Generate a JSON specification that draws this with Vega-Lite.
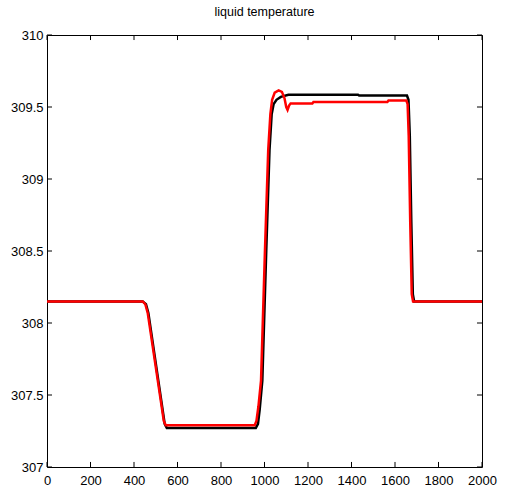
{
  "$schema": "https://vega.github.io/schema/vega-lite/v6.json",
  "autosize": "none",
  "width": 435,
  "height": 432,
  "padding": {"left": 47, "top": 35, "right": 27, "bottom": 28},
  "background": "white",
  "title": {"text": "liquid temperature", "font": "Liberation Sans", "fontSize": 12.5, "fontWeight": "normal", "color": "black", "offset": 11, "anchor": "middle"},
  "config": {
    "view": {"stroke": "black", "strokeWidth": 1},
    "axis": {"grid": false, "domainColor": "black", "tickColor": "black", "labelColor": "black", "labelFont": "Liberation Sans", "labelFontSize": 13, "title": null, "ticks": false, "domain": false, "labelFlush": false, "labelOverlap": false}
  },
  "datasets": {
    "curves": [
      {"t": 0, "temp": 308.15, "s": "A"},
      {"t": 440, "temp": 308.15, "s": "A"},
      {"t": 455, "temp": 308.13, "s": "A"},
      {"t": 466, "temp": 308.07, "s": "A"},
      {"t": 541, "temp": 307.3, "s": "A"},
      {"t": 551, "temp": 307.27, "s": "A"},
      {"t": 960, "temp": 307.27, "s": "A"},
      {"t": 970, "temp": 307.3, "s": "A"},
      {"t": 978, "temp": 307.4, "s": "A"},
      {"t": 990, "temp": 307.6, "s": "A"},
      {"t": 1008, "temp": 308.5, "s": "A"},
      {"t": 1023, "temp": 309.2, "s": "A"},
      {"t": 1033, "temp": 309.45, "s": "A"},
      {"t": 1042, "temp": 309.52, "s": "A"},
      {"t": 1055, "temp": 309.55, "s": "A"},
      {"t": 1075, "temp": 309.57, "s": "A"},
      {"t": 1110, "temp": 309.585, "s": "A"},
      {"t": 1430, "temp": 309.585, "s": "A"},
      {"t": 1435, "temp": 309.58, "s": "A"},
      {"t": 1655, "temp": 309.58, "s": "A"},
      {"t": 1662, "temp": 309.55, "s": "A"},
      {"t": 1668, "temp": 309.3, "s": "A"},
      {"t": 1675, "temp": 308.7, "s": "A"},
      {"t": 1682, "temp": 308.2, "s": "A"},
      {"t": 1688, "temp": 308.15, "s": "A"},
      {"t": 2000, "temp": 308.15, "s": "A"},
      {"t": 0, "temp": 308.15, "s": "B"},
      {"t": 440, "temp": 308.15, "s": "B"},
      {"t": 452, "temp": 308.13, "s": "B"},
      {"t": 463, "temp": 308.07, "s": "B"},
      {"t": 537, "temp": 307.32, "s": "B"},
      {"t": 546, "temp": 307.29, "s": "B"},
      {"t": 955, "temp": 307.29, "s": "B"},
      {"t": 963, "temp": 307.32, "s": "B"},
      {"t": 972, "temp": 307.42, "s": "B"},
      {"t": 984, "temp": 307.6, "s": "B"},
      {"t": 1002, "temp": 308.5, "s": "B"},
      {"t": 1017, "temp": 309.2, "s": "B"},
      {"t": 1027, "temp": 309.45, "s": "B"},
      {"t": 1035, "temp": 309.55, "s": "B"},
      {"t": 1047, "temp": 309.6, "s": "B"},
      {"t": 1065, "temp": 309.615, "s": "B"},
      {"t": 1080, "temp": 309.605, "s": "B"},
      {"t": 1092, "temp": 309.56, "s": "B"},
      {"t": 1100, "temp": 309.5, "s": "B"},
      {"t": 1106, "temp": 309.48, "s": "B"},
      {"t": 1113, "temp": 309.51, "s": "B"},
      {"t": 1120, "temp": 309.525, "s": "B"},
      {"t": 1220, "temp": 309.525, "s": "B"},
      {"t": 1225, "temp": 309.535, "s": "B"},
      {"t": 1565, "temp": 309.535, "s": "B"},
      {"t": 1570, "temp": 309.545, "s": "B"},
      {"t": 1652, "temp": 309.545, "s": "B"},
      {"t": 1658, "temp": 309.52, "s": "B"},
      {"t": 1663, "temp": 309.3, "s": "B"},
      {"t": 1670, "temp": 308.7, "s": "B"},
      {"t": 1677, "temp": 308.2, "s": "B"},
      {"t": 1683, "temp": 308.15, "s": "B"},
      {"t": 2000, "temp": 308.15, "s": "B"}
    ],
    "xticks": [{"v": 0}, {"v": 200}, {"v": 400}, {"v": 600}, {"v": 800}, {"v": 1000}, {"v": 1200}, {"v": 1400}, {"v": 1600}, {"v": 1800}, {"v": 2000}],
    "yticks": [{"v": 307}, {"v": 307.5}, {"v": 308}, {"v": 308.5}, {"v": 309}, {"v": 309.5}, {"v": 310}]
  },
  "layer": [
    {
      "data": {"name": "curves"},
      "mark": {"type": "line", "strokeWidth": 2.5, "clip": true},
      "encoding": {
        "x": {"field": "t", "type": "quantitative", "scale": {"domain": [0, 2000], "nice": false, "zero": false}, "axis": {"orient": "bottom", "values": [0,200,400,600,800,1000,1200,1400,1600,1800,2000], "format": "d", "labelPadding": 7}},
        "y": {"field": "temp", "type": "quantitative", "scale": {"domain": [307, 310], "nice": false, "zero": false}, "axis": {"orient": "left", "values": [307,307.5,308,308.5,309,309.5,310], "format": ".4~r", "labelPadding": 4}},
        "color": {"field": "s", "type": "nominal", "scale": {"domain": ["A", "B"], "range": ["black", "#ff0000"]}, "legend": null}
      }
    },
    {
      "data": {"name": "xticks"},
      "mark": {"type": "rule", "color": "black", "strokeWidth": 1},
      "encoding": {
        "x": {"field": "v", "type": "quantitative", "axis": null},
        "y": {"datum": 307, "type": "quantitative", "axis": null},
        "y2": {"datum": 307.035}
      }
    },
    {
      "data": {"name": "xticks"},
      "mark": {"type": "rule", "color": "black", "strokeWidth": 1},
      "encoding": {
        "x": {"field": "v", "type": "quantitative", "axis": null},
        "y": {"datum": 310, "type": "quantitative", "axis": null},
        "y2": {"datum": 309.965}
      }
    },
    {
      "data": {"name": "yticks"},
      "mark": {"type": "rule", "color": "black", "strokeWidth": 1},
      "encoding": {
        "y": {"field": "v", "type": "quantitative", "axis": null},
        "x": {"datum": 0, "type": "quantitative", "axis": null},
        "x2": {"datum": 23}
      }
    },
    {
      "data": {"name": "yticks"},
      "mark": {"type": "rule", "color": "black", "strokeWidth": 1},
      "encoding": {
        "y": {"field": "v", "type": "quantitative", "axis": null},
        "x": {"datum": 2000, "type": "quantitative", "axis": null},
        "x2": {"datum": 1977}
      }
    }
  ],
  "resolve": {"axis": {"x": "independent", "y": "independent"}}
}
